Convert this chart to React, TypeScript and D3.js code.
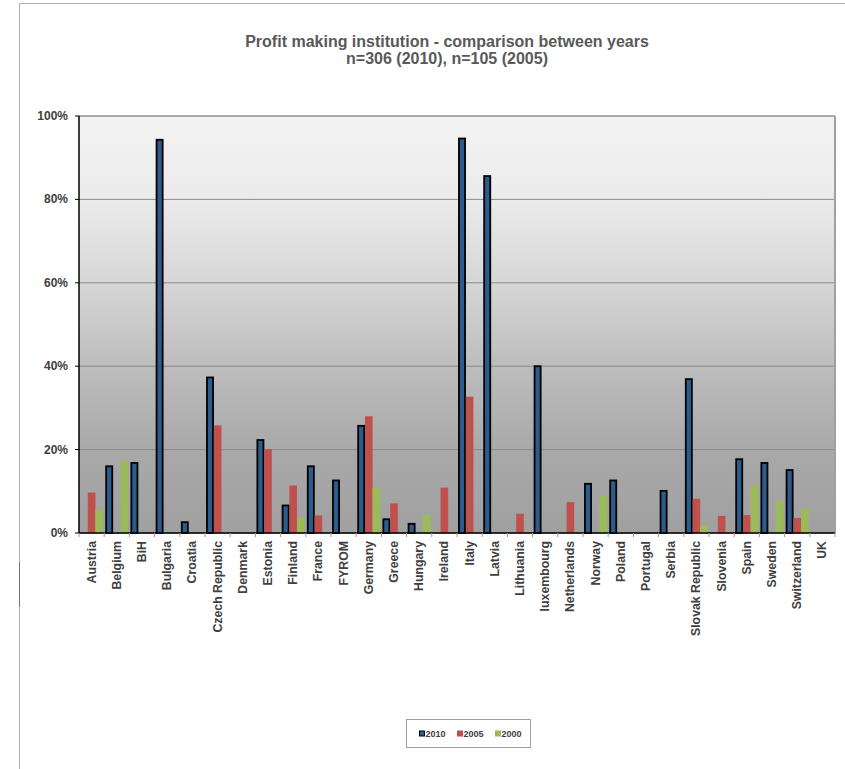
import React from "react";
import * as d3 from "d3";

const categories = [
  "Austria", "Belgium", "BiH", "Bulgaria", "Croatia", "Czech Republic", "Denmark",
  "Estonia", "Finland", "France", "FYROM", "Germany", "Greece", "Hungary", "Ireland",
  "Italy", "Latvia", "Lithuania", "luxembourg", "Netherlands", "Norway", "Poland",
  "Portugal", "Serbia", "Slovak Republic", "Slovenia", "Spain", "Sweden", "Switzerland", "UK",
];
const seriesNames = ["2010", "2005", "2000"];
const values2010 = [0, 16.0, 16.8, 94.3, 2.6, 37.3, 0, 22.3, 6.6, 16.0, 12.6, 25.7, 3.3, 2.2, 0, 94.6, 85.6, 0, 40.0, 0, 11.8, 12.6, 0, 10.1, 36.9, 0, 17.7, 16.8, 15.1, 0];
const values2005 = [9.7, 0, 0, 0, 0, 25.8, 0, 20.1, 11.4, 4.2, 0, 28.0, 7.1, 0, 10.9, 32.7, 0, 4.6, 0, 7.4, 0, 0, 0, 0, 8.2, 4.1, 4.3, 0, 3.6, 0];
const values2000 = [5.6, 17.3, 0, 0, 0, 0, 0, 0, 3.7, 0, 0, 10.9, 0, 4.4, 0, 0, 0, 0, 0, 0, 9.0, 0, 0, 0, 1.8, 0, 11.4, 7.7, 5.9, 0];
const yTicks = [0, 20, 40, 60, 80, 100];
const titleLines = ["Profit making institution - comparison between years", "n=306 (2010), n=105 (2005)"];

const colors = ["#2c5c8b", "#c0504d", "#9bbb59"];
const FONT = "'Liberation Sans', Arial, sans-serif";

export default function App() {
  const W = 845, H = 769;
  const left = 79, right = 835, top = 116, bottom = 533;
  const x0 = d3.scaleBand().domain(categories).range([left, right]).paddingInner(0).paddingOuter(0);
  const x1 = d3.scaleBand().domain(seriesNames).range([0, x0.bandwidth()]).paddingInner(0).paddingOuter(0.16);
  const y = d3.scaleLinear().domain([0, 100]).range([bottom, top]);
  const seriesVals = [values2010, values2005, values2000];

  return (
    <div style={{ position: "absolute", left: 0, top: 0 }}>
      <svg width={W} height={H} style={{ display: "block", fontFamily: FONT }}>
        <defs>
          <linearGradient id="bg" x1="0" y1="0" x2="0" y2="1">
            <stop offset="0" stopColor="#f2f3f2" />
            <stop offset="0.2" stopColor="#ebebeb" />
            <stop offset="0.4" stopColor="#d6d6d6" />
            <stop offset="0.6" stopColor="#bdbdbd" />
            <stop offset="0.8" stopColor="#a9a9a9" />
            <stop offset="1" stopColor="#a0a0a0" />
          </linearGradient>
        </defs>
        <rect x={0} y={0} width={W} height={H} fill="#fff" />
        {/* outer frame */}
        <line x1={19.5} y1={3} x2={19.5} y2={H} stroke="#b0b0b0" strokeWidth={1} />
        <line x1={19} y1={3.5} x2={W} y2={3.5} stroke="#b0b0b0" strokeWidth={1} />
        <line x1={19.5} y1={562} x2={19.5} y2={607} stroke="#707070" strokeWidth={1} />

        {/* title */}
        {titleLines.map((t, i) => (
          <text key={i} x={447} y={47 + i * 17} textAnchor="middle" fontSize={16} fontWeight="bold" fill="#595959">
            {t}
          </text>
        ))}

        {/* plot background */}
        <rect x={left} y={top} width={right - left} height={bottom - top} fill="url(#bg)" />
        {/* grid */}
        {yTicks.map((t) => (
          <line key={t} x1={left} x2={right} y1={y(t)} y2={y(t)} stroke="#8a8a8a" strokeWidth={1} />
        ))}
        <line x1={right} x2={right} y1={top} y2={bottom} stroke="#a0a0a0" strokeWidth={2} />
        <line x1={left} x2={right} y1={top} y2={top} stroke="#a8a8a8" strokeWidth={2} />

        {/* bars */}
        {categories.map((c, i) => (
          <g key={c} transform={`translate(${x0(c)},0)`}>
            {seriesNames.map((s, j) => {
              const v = seriesVals[j][i];
              if (!v) return null;
              const bx = x1(s) as number;
              const bw = x1.bandwidth();
              return j === 0 ? (
                <rect key={s} x={bx + 0.75} y={y(v)} width={bw - 1.5} height={bottom - y(v)}
                  fill={colors[j]} stroke="#000" strokeWidth={1.8} />
              ) : (
                <rect key={s} x={bx} y={y(v)} width={bw} height={bottom - y(v)} fill={colors[j]} />
              );
            })}
          </g>
        ))}

        {/* axes */}
        <line x1={left} x2={left} y1={top} y2={bottom} stroke="#000" strokeWidth={1.5} />
        <line x1={left} x2={right} y1={bottom} y2={bottom} stroke="#000" strokeWidth={1.5} />
        {yTicks.map((t) => (
          <g key={t}>
            <line x1={left - 4} x2={left} y1={y(t)} y2={y(t)} stroke="#000" />
            <text x={68} y={y(t) + 4} textAnchor="end" fontSize={12} fontWeight="bold" fill="#404040">
              {t}%
            </text>
          </g>
        ))}
        {categories.map((c) => (
          <line key={c} x1={(x0(c) as number)} x2={(x0(c) as number)} y1={bottom} y2={bottom + 4} stroke="#999" />
        ))}
        <line x1={right} x2={right} y1={bottom} y2={bottom + 4} stroke="#999" />
        {categories.map((c) => {
          const cx = (x0(c) as number) + x0.bandwidth() / 2;
          return (
            <text key={c} transform={`translate(${cx + 4},541) rotate(-90)`} textAnchor="end" fontSize={12.3} fontWeight="bold" fill="#404040">
              {c}
            </text>
          );
        })}

        {/* legend */}
        <rect x={406.5} y={719.5} width={124} height={28} fill="#fff" stroke="#a0a0a0" />
        {seriesNames.map((s, j) => {
          const lx = 419 + j * 38;
          return (
            <g key={s}>
              {j === 0 ? (
                <rect x={lx + 0.5} y={731} width={5} height={5} fill={colors[j]} stroke="#000" strokeWidth={1} />
              ) : (
                <rect x={lx} y={730.5} width={6} height={6} fill={colors[j]} />
              )}
              <text x={lx + 6.5} y={737} fontSize={9} fontWeight="bold" fill="#404040">{s}</text>
            </g>
          );
        })}
      </svg>
    </div>
  );
}
